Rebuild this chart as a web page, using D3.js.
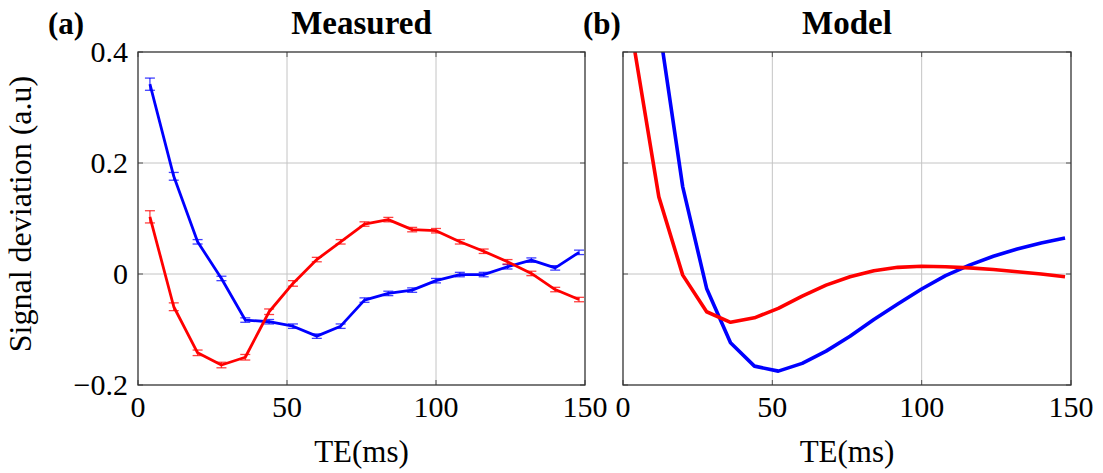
<!DOCTYPE html>
<html>
<head>
<meta charset="utf-8">
<script src="https://cdn.jsdelivr.net/npm/d3@7"></script>
<style>
  body { margin: 0; background: #fff; }
</style>
</head>
<body>
<div id="chart"></div>
<script>
// TE values (ms) shared by both panels
const te = [4, 12, 20, 28, 36, 44, 52, 60, 68, 76, 84, 92, 100, 108, 116, 124, 132, 140, 148];

// measured signal deviation
const measBlue = [0.342, 0.176, 0.058, -0.008, -0.083, -0.086, -0.094, -0.112, -0.094, -0.047, -0.035, -0.029, -0.012, -0.001, -0.001, 0.013, 0.025, 0.011, 0.039];
const measBlueErr = [0.011, 0.007, 0.004, 0.004, 0.004, 0.004, 0.004, 0.004, 0.004, 0.004, 0.004, 0.004, 0.004, 0.004, 0.004, 0.004, 0.004, 0.004, 0.004];
const measRed = [0.103, -0.059, -0.142, -0.164, -0.150, -0.068, -0.017, 0.026, 0.058, 0.090, 0.098, 0.080, 0.078, 0.058, 0.041, 0.022, 0.001, -0.028, -0.046];
const measRedErr = [0.011, 0.007, 0.005, 0.005, 0.005, 0.005, 0.005, 0.004, 0.004, 0.004, 0.004, 0.004, 0.004, 0.004, 0.004, 0.004, 0.004, 0.004, 0.004];

// model curves (blue starts off-scale, clipped at the top)
const modelTe = [12, 20, 28, 36, 44, 52, 60, 68, 76, 84, 92, 100, 108, 116, 124, 132, 140, 148];
const modelBlue = [0.45, 0.157, -0.026, -0.124, -0.166, -0.175, -0.161, -0.139, -0.112, -0.082, -0.054, -0.027, -0.003, 0.016, 0.032, 0.045, 0.056, 0.065];
const modelRed = [0.40, 0.139, -0.002, -0.068, -0.087, -0.079, -0.062, -0.040, -0.020, -0.005, 0.006, 0.012, 0.014, 0.013, 0.011, 0.008, 0.004, 0.000, -0.005];

const xTicks = [0, 50, 100, 150];
const yTicks = [-0.2, 0, 0.2, 0.4];

const W = 1103, H = 473;
const plotTop = 52, plotBottom = 385;
const serif = "'Liberation Serif', 'DejaVu Serif', 'Times New Roman', serif";

const svg = d3.select('#chart').append('svg')
  .attr('width', W)
  .attr('height', H)
  .attr('font-family', serif);

const y = d3.scaleLinear().domain([-0.2, 0.4]).range([plotBottom, plotTop]);

function panel(id, left, right, title, tag, tagX, showY) {
  const x = d3.scaleLinear().domain([0, 150]).range([left, right]);
  const g = svg.append('g');

  g.append('clipPath').attr('id', 'clip-' + id)
    .append('rect')
    .attr('x', left).attr('y', plotTop)
    .attr('width', right - left).attr('height', plotBottom - plotTop);

  // grid
  g.selectAll('.gx').data(xTicks.slice(1, -1)).enter().append('line')
    .attr('x1', d => x(d)).attr('x2', d => x(d))
    .attr('y1', plotTop).attr('y2', plotBottom)
    .attr('stroke', '#c4c4c4').attr('stroke-width', 1);
  g.selectAll('.gy').data(yTicks.slice(1, -1)).enter().append('line')
    .attr('x1', left).attr('x2', right)
    .attr('y1', d => y(d)).attr('y2', d => y(d))
    .attr('stroke', '#c4c4c4').attr('stroke-width', 1);

  // inward ticks on all sides
  const tl = 5;
  xTicks.forEach(t => {
    g.append('line').attr('x1', x(t)).attr('x2', x(t)).attr('y1', plotBottom).attr('y2', plotBottom - tl)
      .attr('stroke', '#555').attr('stroke-width', 1);
    g.append('line').attr('x1', x(t)).attr('x2', x(t)).attr('y1', plotTop).attr('y2', plotTop + tl)
      .attr('stroke', '#555').attr('stroke-width', 1);
  });
  yTicks.forEach(t => {
    g.append('line').attr('x1', left).attr('x2', left + tl).attr('y1', y(t)).attr('y2', y(t))
      .attr('stroke', '#555').attr('stroke-width', 1);
    g.append('line').attr('x1', right).attr('x2', right - tl).attr('y1', y(t)).attr('y2', y(t))
      .attr('stroke', '#555').attr('stroke-width', 1);
  });

  // tick labels
  g.selectAll('.xl').data(xTicks).enter().append('text')
    .attr('x', d => x(d)).attr('y', 417)
    .attr('text-anchor', 'middle')
    .attr('font-family', serif)
    .attr('font-size', 30)
    .text(d => d);
  if (showY) {
    g.selectAll('.yl').data(yTicks).enter().append('text')
      .attr('x', left - 10).attr('y', d => y(d) + 10)
      .attr('text-anchor', 'end')
      .attr('font-family', serif)
      .attr('font-size', 30)
      .text(d => d === 0 ? '0' : (d < 0 ? '\u22120.2' : d.toFixed(1)));
  }

  g.append('text')
    .attr('x', (left + right) / 2).attr('y', 462)
    .attr('text-anchor', 'middle')
    .attr('font-family', serif)
    .attr('font-size', 31)
    .text('TE(ms)');

  g.append('text')
    .attr('x', (left + right) / 2).attr('y', 34)
    .attr('text-anchor', 'middle')
    .attr('font-family', serif)
    .attr('font-size', 33).attr('font-weight', 'bold')
    .text(title);
  g.append('text')
    .attr('x', tagX).attr('y', 34)
    .attr('font-family', serif)
    .attr('font-size', 31).attr('font-weight', 'bold')
    .text(tag);

  const plot = g.append('g').attr('clip-path', 'url(#clip-' + id + ')');

  // frame
  g.append('rect')
    .attr('x', left).attr('y', plotTop)
    .attr('width', right - left).attr('height', plotBottom - plotTop)
    .attr('fill', 'none').attr('stroke', '#333').attr('stroke-width', 1.3);

  return { x, plot };
}

const a = panel('a', 138, 585, 'Measured', '(a)', 48, true);
const b = panel('b', 623, 1071, 'Model', '(b)', 583, false);

function measured(p, vals, errs, color) {
  const line = d3.line().x((d, i) => p.x(te[i])).y(d => y(d));
  p.plot.append('path').datum(vals)
    .attr('d', line)
    .attr('fill', 'none').attr('stroke', color).attr('stroke-width', 2.8)
    .attr('stroke-linejoin', 'round');
  const eb = p.plot.append('g')
    .attr('stroke', color).attr('stroke-width', 1.3).attr('stroke-opacity', 0.75);
  vals.forEach((v, i) => {
    const cx = p.x(te[i]);
    const y0 = y(v - errs[i]), y1 = y(v + errs[i]);
    eb.append('line').attr('x1', cx).attr('x2', cx).attr('y1', y0).attr('y2', y1);
    eb.append('line').attr('x1', cx - 5).attr('x2', cx + 5).attr('y1', y0).attr('y2', y0);
    eb.append('line').attr('x1', cx - 5).attr('x2', cx + 5).attr('y1', y1).attr('y2', y1);
  });
}

measured(a, measBlue, measBlueErr, '#0000ff');
measured(a, measRed, measRedErr, '#ff0000');

function model(p, xs, vals, color) {
  const line = d3.line().x((d, i) => p.x(xs[i])).y(d => y(d));
  p.plot.append('path').datum(vals)
    .attr('d', line)
    .attr('fill', 'none').attr('stroke', color).attr('stroke-width', 3.6)
    .attr('stroke-linejoin', 'round');
}

model(b, modelTe, modelBlue, '#0000ff');
model(b, te, modelRed, '#ff0000');

// shared y label
svg.append('text')
  .attr('transform', 'translate(31,214) rotate(-90)')
  .attr('text-anchor', 'middle')
  .attr('font-family', serif)
  .attr('font-size', 32)
  .text('Signal deviation (a.u)');
</script>
</body>
</html>
